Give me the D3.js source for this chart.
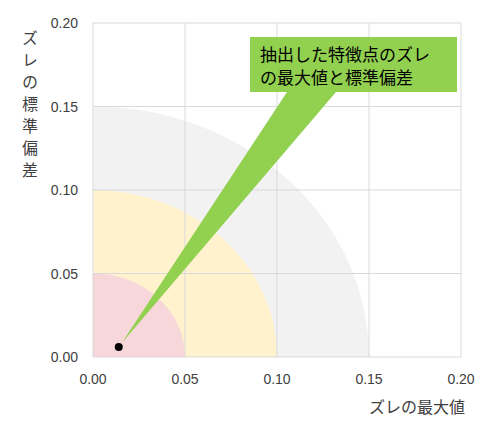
<!DOCTYPE html>
<html><head><meta charset="utf-8">
<script src="https://cdn.jsdelivr.net/npm/d3@7"></script>
<style>body{margin:0;background:#fff}text{font-family:"Noto Sans CJK JP",sans-serif}.num{font-family:"Liberation Sans",Arial,sans-serif}</style>
</head><body><div id="chart"></div>
<script>
const xTicks = [0, 0.05, 0.1, 0.15, 0.2];
const yTicks = [0, 0.05, 0.1, 0.15, 0.2];
const zones = [0.15, 0.10, 0.05];
const zoneColors = ["#f2f2f2", "#fff2cc", "#f8d7da"];
const point = [0.014, 0.006];
const calloutLines = ["抽出した特徴点のズレ", "の最大値と標準偏差"];

const width = 495, height = 427;
const x = d3.scaleLinear().domain([0, 0.2]).range([93, 461]);
const y = d3.scaleLinear().domain([0, 0.2]).range([357, 23]);

const svg = d3.select("#chart").append("svg").attr("width", width).attr("height", height);

// quarter ellipses
zones.forEach((r, i) => {
  const rx = x(r) - x(0), ry = y(0) - y(r);
  svg.append("path")
    .attr("d", `M${x(0)},${y(0)} L${x(r)},${y(0)} A${rx},${ry} 0 0 0 ${x(0)},${y(r)} Z`)
    .attr("fill", zoneColors[i]);
});

// grid
svg.selectAll(".gx").data(xTicks).join("line")
  .attr("x1", d => x(d)).attr("x2", d => x(d)).attr("y1", y(0)).attr("y2", y(0.2))
  .attr("stroke", "#d9d9d9");
svg.selectAll(".gy").data(yTicks).join("line")
  .attr("y1", d => y(d)).attr("y2", d => y(d)).attr("x1", x(0)).attr("x2", x(0.2))
  .attr("stroke", "#d9d9d9");

svg.selectAll(".tx").data(xTicks).join("text").attr("class", "num")
  .attr("x", d => x(d)).attr("y", 384).attr("text-anchor", "middle")
  .attr("font-size", 14).attr("fill", "#404040").text(d => d.toFixed(2));
svg.selectAll(".ty").data(yTicks).join("text").attr("class", "num")
  .attr("x", 78).attr("y", d => y(d) + 5).attr("text-anchor", "end")
  .attr("font-size", 14).attr("fill", "#404040").text(d => d.toFixed(2));

// axis titles
svg.append("text").attr("x", 465).attr("y", 413).attr("text-anchor", "end")
  .attr("font-size", 16).attr("fill", "#404040").text("ズレの最大値");
svg.append("text").attr("transform", "translate(30,30)")
  .attr("writing-mode", "tb").attr("font-size", 16).attr("fill", "#404040")
  .attr("letter-spacing", 6).text("ズレの標準偏差");

// callout
const px = x(point[0]), py = y(point[1]);
svg.append("path").attr("d", `M${px + 3},${py - 4} L287,92 L336,92 Z`).attr("fill", "#92d050");
svg.append("rect").attr("x", 250).attr("y", 37).attr("width", 207).attr("height", 55).attr("fill", "#92d050");
svg.selectAll(".cl").data(calloutLines).join("text")
  .attr("x", 260).attr("y", (d, i) => 61 + i * 23)
  .attr("font-size", 17).attr("fill", "#000").text(d => d);

svg.append("circle").attr("cx", px).attr("cy", py).attr("r", 4).attr("fill", "#000");
</script></body></html>
